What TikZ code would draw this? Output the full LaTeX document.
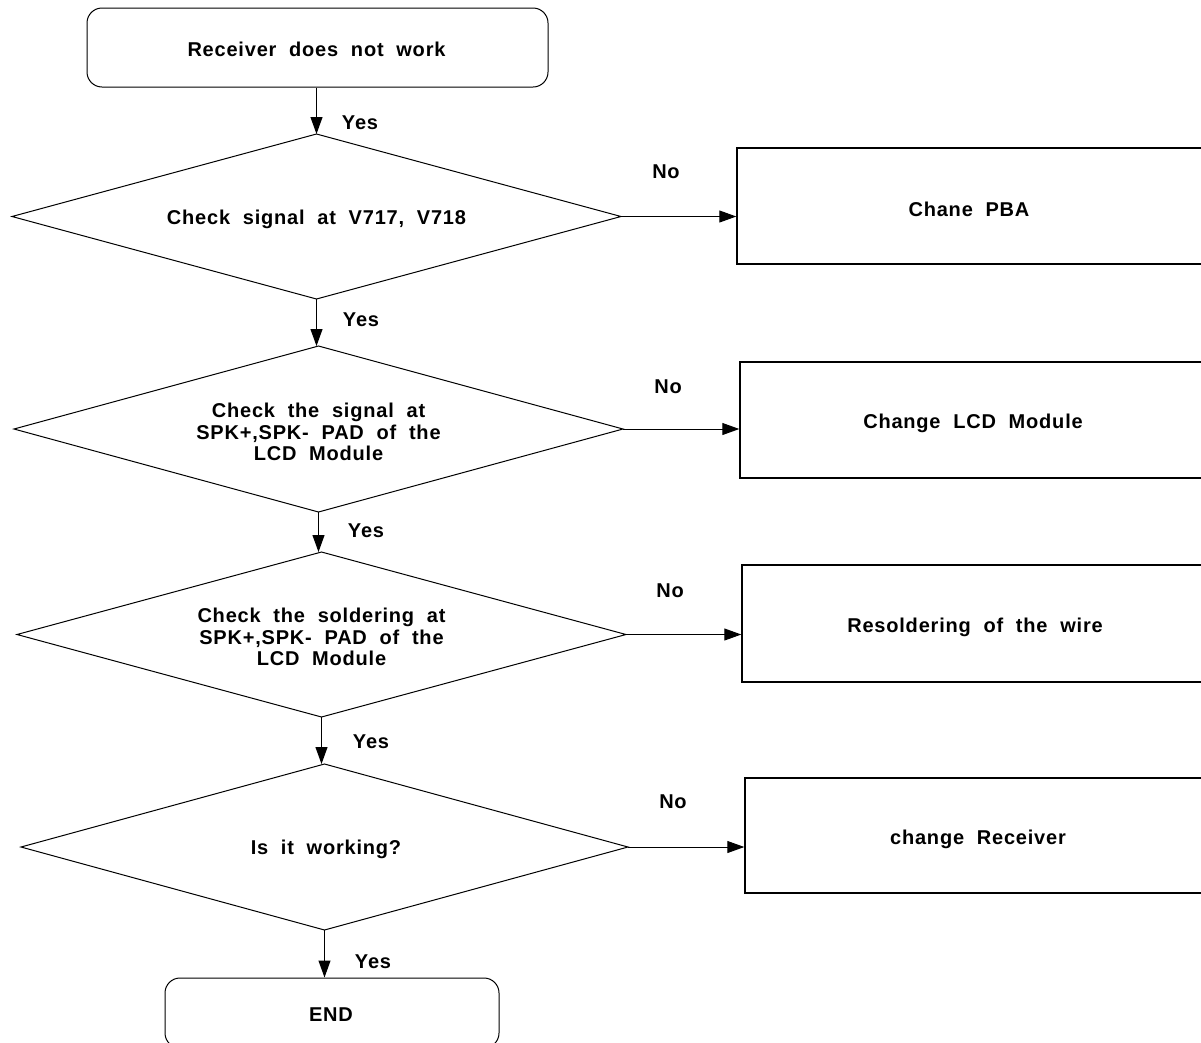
\documentclass[tikz,border=0pt]{standalone}
\usepackage{fontspec}
\setmainfont{Liberation Sans}[WordSpace=2, LetterSpace=4]
\usetikzlibrary{arrows.meta}
\begin{document}
\begin{tikzpicture}[x=1pt,y=-1pt,
  every node/.style={font=\fontsize{20}{21.5}\selectfont\bfseries, inner sep=0pt, align=center},
  txt/.style={yshift=-2pt},
  term/.style={draw, line width=1pt, rounded corners=15pt},
  proc/.style={draw, line width=1.4pt},
  dec/.style={draw, line width=1pt, line join=miter},
  lbl/.style={},
  arr/.style={line width=1pt, -{Triangle[length=17pt,width=12pt]}}
]
\useasboundingbox (0,0) rectangle (1201,1042);
\clip (0,0) rectangle (1201,1042);

% terminals
\node[term, minimum width=461pt, minimum height=79pt] (start) at (317.5,47.5) {};
\node[txt] (startt) at (316.5,47.5) {Receiver does not work};
\node[term, minimum width=334pt, minimum height=70pt] (end) at (332,1013) {};
\node[txt] (endt) at (331,1013) {END};

% decision diamonds
\coordinate (d1w) at (12,216.5);  \coordinate (d1n) at (316.5,134);
\coordinate (d1e) at (621,216.5); \coordinate (d1s) at (316.5,299);
\coordinate (d2w) at (14,429);    \coordinate (d2n) at (318.5,346);
\coordinate (d2e) at (623,429);   \coordinate (d2s) at (318.5,512);
\coordinate (d3w) at (17,634.5);  \coordinate (d3n) at (321.5,552);
\coordinate (d3e) at (626,634.5); \coordinate (d3s) at (321.5,717);
\coordinate (d4w) at (21,847);    \coordinate (d4n) at (324.5,764);
\coordinate (d4e) at (628,847);   \coordinate (d4s) at (324.5,930);

\draw[dec] (d1w) -- (d1n) -- (d1e) -- (d1s) -- cycle;
\draw[dec] (d2w) -- (d2n) -- (d2e) -- (d2s) -- cycle;
\draw[dec] (d3w) -- (d3n) -- (d3e) -- (d3s) -- cycle;
\draw[dec] (d4w) -- (d4n) -- (d4e) -- (d4s) -- cycle;

\node[txt] (t1) at (316.5,217) {Check signal at V717, V718};
\node[txt] (t2) at (318.5,430) {Check the signal at\\SPK+,SPK- PAD of the\\LCD Module};
\node[txt] (t3) at (321.5,635) {Check the soldering at\\SPK+,SPK- PAD of the\\LCD Module};
\node[txt] (t4) at (326,847) {Is it working?};

% process boxes (cut by the right edge)
\node[proc, minimum width=466pt, minimum height=116pt] (b1) at (970,206) {};
\node[txt] (b1t) at (969,207) {Chane PBA};
\node[proc, minimum width=463pt, minimum height=116pt] (b2) at (971.5,420) {};
\node[txt] (b2t) at (973,421) {Change LCD Module};
\node[proc, minimum width=461pt, minimum height=117pt] (b3) at (972.5,623.5) {};
\node[txt] (b3t) at (975,625) {Resoldering of the wire};
\node[proc, minimum width=458pt, minimum height=115pt] (b4) at (974,835.5) {};
\node[txt] (b4t) at (978,837) {change Receiver};

% connectors
\draw[arr] (start.south -| d1n) -- (d1n);
\draw[arr] (d1s) -- (d1s |- d2n);
\draw[arr] (d2s) -- (d2s |- d3n);
\draw[arr] (d3s) -- (d3s |- d4n);
\draw[arr] (d4s) -- (d4s |- end.north);

\draw[arr] (d1e) -- (d1e -| b1.west);
\draw[arr] (d2e) -- (d2e -| b2.west);
\draw[arr] (d3e) -- (d3e -| b3.west);
\draw[arr] (d4e) -- (d4e -| b4.west);

% labels
\node[lbl,txt] (y1) at (360,121) {Yes};
\node[lbl,txt] (y2) at (361,318) {Yes};
\node[lbl,txt] (y3) at (366,529) {Yes};
\node[lbl,txt] (y4) at (371,740) {Yes};
\node[lbl,txt] (y5) at (373,960) {Yes};

\node[lbl,txt] (n1) at (666,170) {No};
\node[lbl,txt] (n2) at (668,385) {No};
\node[lbl,txt] (n3) at (670,589) {No};
\node[lbl,txt] (n4) at (673,800) {No};
\end{tikzpicture}
\end{document}
